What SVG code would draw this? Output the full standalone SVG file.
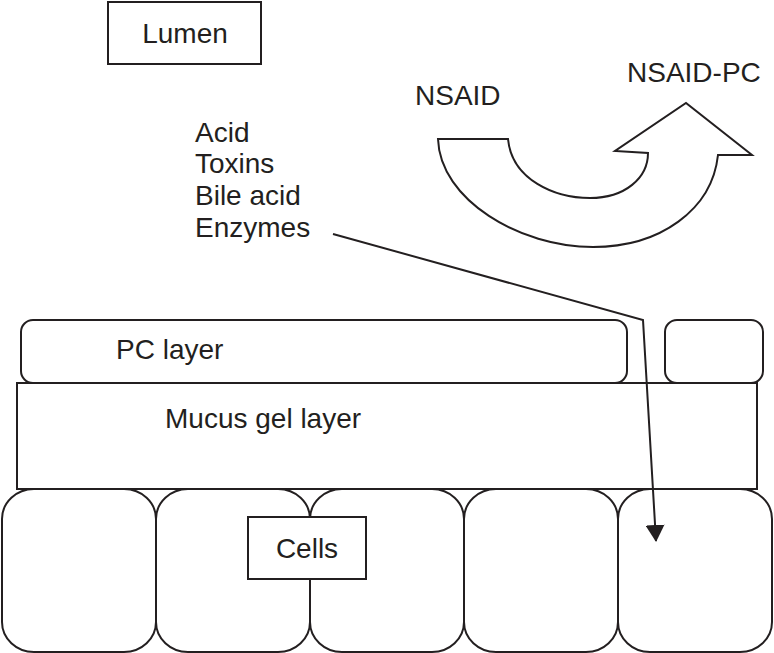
<svg xmlns="http://www.w3.org/2000/svg" width="774" height="653" viewBox="0 0 774 653">
<style>
.s{fill:#fff;stroke:#231f20;stroke-width:2}
.t{font-family:"Liberation Sans",Arial,sans-serif;font-size:28px;fill:#231f20}
.c{fill:none;stroke:#231f20;stroke-width:2}
</style>
<defs>
<marker id="ah" viewBox="0 0 17 19" refX="16" refY="9.5" markerWidth="17" markerHeight="19" markerUnits="userSpaceOnUse" orient="auto">
<path d="M0,0 L17,9.5 L0,19 Z" fill="#231f20"/>
</marker>
</defs>
<rect width="774" height="653" fill="#fff"/>
<g id="lumen">
<rect class="s" x="108" y="2" width="153" height="62"/>
<text class="t" x="185" y="43" text-anchor="middle">Lumen</text>
</g>
<g id="nsaid-arrow">
<path class="s" d="M438,139 L508,139 C512,180 555,198 590,198 C625,198 648,178 648,153 L615,151 L686,103 L752,155 L718,155 C712,210 660,247 593,247 C520,247 440,200 438,139 Z"/>
<text class="t" x="415" y="105">NSAID</text>
<text class="t" x="627" y="82">NSAID-PC</text>
</g>
<g id="agents">
<text class="t" x="195" y="142">Acid</text>
<text class="t" x="195" y="173">Toxins</text>
<text class="t" x="195" y="205">Bile acid</text>
<text class="t" x="195" y="237">Enzymes</text>
</g>
<g id="pc-layer">
<rect class="s" x="21" y="320" width="606" height="63" rx="12" ry="12"/>
<rect class="s" x="665" y="320" width="98" height="63" rx="12" ry="12"/>
<text class="t" x="116" y="359">PC layer</text>
</g>
<g id="mucus">
<rect class="s" x="17" y="383" width="740" height="106"/>
<text class="t" x="165" y="428">Mucus gel layer</text>
</g>
<g id="cells">
<rect class="s" x="2" y="489" width="154" height="163" rx="32" ry="30"/>
<rect class="s" x="156" y="489" width="154" height="163" rx="32" ry="30"/>
<rect class="s" x="310" y="489" width="154" height="163" rx="32" ry="30"/>
<rect class="s" x="464" y="489" width="154" height="163" rx="32" ry="30"/>
<rect class="s" x="618" y="489" width="154" height="163" rx="32" ry="30"/>
<rect class="s" x="248" y="517" width="118" height="62"/>
<text class="t" x="307" y="558" text-anchor="middle">Cells</text>
</g>
<g id="connectors">
<polyline class="c" points="333,234 643,320 656,541" marker-end="url(#ah)"/>
</g>
</svg>
